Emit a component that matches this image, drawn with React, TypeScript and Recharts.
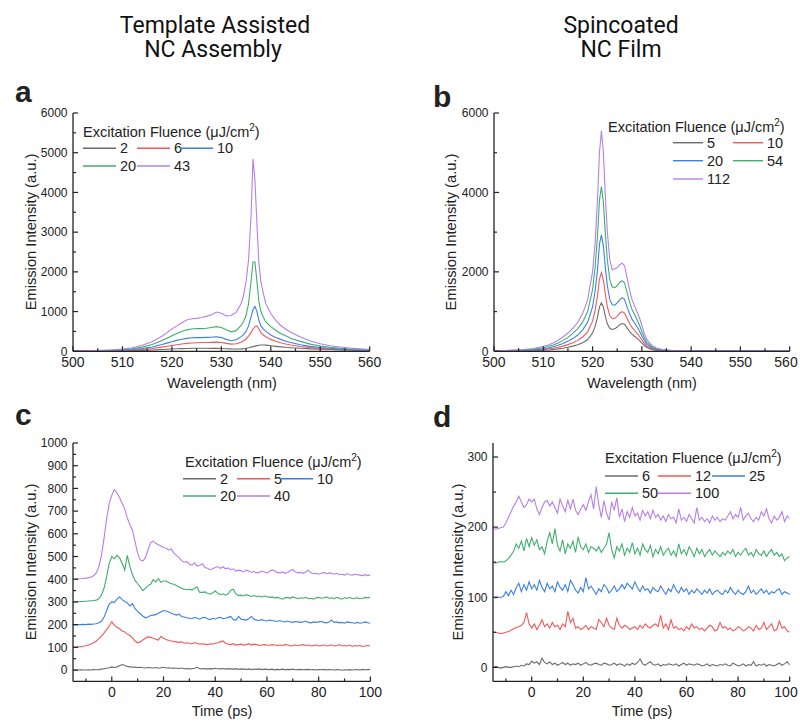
import React from "react";
import { LineChart, Line, XAxis, YAxis } from "recharts";

// line colours, lowest to highest fluence
const COLORS = ["#6b6b6b", "#f0595a", "#3c7fe3", "#3fae6e", "#b57fe8"];
const INK = "#222";
const SANS = '"Liberation Sans", Arial, sans-serif';

// ---- panel a: template assisted spectra ----
const aWavelength = [500, 502, 504, 506, 508, 510, 512, 514, 516, 518, 519, 520, 521, 522, 523, 524, 525, 526, 527, 528, 529, 530, 531, 532, 533, 534, 534.5, 535, 535.5, 536, 536.4, 536.8, 537.2, 537.6, 538, 538.5, 539, 540, 541, 542, 543, 544, 546, 548, 550, 552, 554, 556, 558, 560];
const aFluence2 = [3, 4, 5, 7, 9, 12, 17, 24, 33, 45, 52, 58, 64, 68, 72, 75, 76, 76, 75, 74, 73, 70, 65, 60, 58, 62, 68, 78, 90, 105, 118, 130, 142, 152, 158, 160, 155, 140, 125, 112, 100, 90, 75, 62, 52, 44, 37, 31, 26, 22];
const aFluence6 = [4, 5, 7, 10, 14, 20, 30, 45, 70, 105, 125, 145, 165, 185, 200, 210, 215, 220, 220, 225, 230, 220, 200, 180, 190, 230, 265, 310, 380, 470, 560, 620, 640, 560, 470, 410, 365, 300, 255, 215, 185, 160, 120, 92, 72, 56, 44, 34, 27, 22];
const aFluence10 = [5, 7, 10, 14, 20, 28, 45, 70, 110, 170, 205, 240, 275, 305, 325, 340, 345, 345, 350, 355, 365, 345, 300, 265, 290, 370, 420, 500, 640, 860, 1050, 1130, 1000, 780, 640, 560, 500, 410, 350, 300, 255, 220, 165, 125, 95, 75, 55, 42, 32, 25];
const aFluence20 = [8, 10, 14, 20, 28, 40, 65, 105, 170, 270, 330, 390, 450, 500, 540, 560, 575, 570, 580, 600, 620, 600, 540, 490, 520, 650, 750, 900, 1200, 1750, 2250, 2250, 1750, 1250, 1000, 850, 740, 620, 530, 450, 390, 330, 250, 180, 135, 100, 75, 55, 40, 30];
const aFluence43 = [10, 12, 18, 25, 35, 55, 90, 150, 240, 380, 470, 560, 640, 720, 790, 820, 830, 850, 880, 920, 990, 960, 890, 900, 980, 1200, 1400, 1750, 2300, 3400, 4850, 4300, 3200, 2200, 1750, 1450, 1200, 950, 780, 650, 560, 480, 360, 260, 190, 140, 110, 80, 60, 45];
const aLabels = ["2", "6", "10", "20", "43"];

// ---- panel b: spincoated spectra ----
const bWavelength = [500, 502, 504, 506, 508, 510, 511, 512, 513, 514, 515, 516, 517, 518, 519, 520, 520.5, 521, 521.4, 521.8, 522.2, 522.6, 523, 523.5, 524, 524.5, 525, 525.5, 526, 526.5, 527, 527.5, 528, 528.5, 529, 529.5, 530, 530.5, 531, 532, 533, 534, 535, 536, 538, 540, 545, 550, 555, 560];
const bFluence5 = [3, 4, 6, 9, 14, 25, 34, 46, 60, 78, 100, 130, 165, 215, 295, 460, 620, 860, 1120, 1220, 1110, 880, 690, 580, 550, 565, 610, 670, 700, 680, 590, 500, 430, 380, 330, 275, 210, 145, 95, 48, 24, 14, 10, 8, 6, 4, 3, 2, 2, 1];
const bFluence10 = [5, 7, 10, 15, 24, 42, 57, 77, 100, 130, 168, 215, 275, 360, 490, 760, 1020, 1400, 1820, 1980, 1800, 1430, 1120, 900, 820, 830, 880, 960, 1000, 960, 830, 700, 600, 530, 460, 380, 290, 200, 130, 65, 33, 20, 14, 11, 8, 6, 4, 3, 3, 2];
const bFluence20 = [8, 10, 15, 23, 36, 62, 85, 115, 150, 195, 250, 320, 410, 540, 730, 1120, 1500, 2050, 2700, 2930, 2650, 2100, 1650, 1300, 1170, 1160, 1220, 1300, 1350, 1300, 1120, 950, 810, 720, 620, 510, 390, 270, 175, 88, 45, 28, 20, 16, 12, 9, 6, 5, 4, 3];
const bFluence54 = [12, 15, 22, 34, 52, 90, 120, 160, 210, 275, 350, 450, 570, 740, 1000, 1550, 2100, 2900, 3800, 4150, 3750, 2950, 2300, 1800, 1620, 1600, 1650, 1740, 1780, 1720, 1480, 1250, 1050, 930, 800, 660, 500, 350, 230, 115, 60, 38, 27, 21, 15, 12, 8, 6, 5, 4];
const bFluence112 = [15, 20, 30, 45, 70, 120, 160, 210, 280, 360, 460, 580, 730, 950, 1300, 2000, 2700, 3800, 5000, 5550, 5000, 3900, 3000, 2300, 2050, 2080, 2100, 2180, 2220, 2150, 1850, 1550, 1300, 1150, 1000, 850, 650, 450, 300, 150, 80, 50, 35, 28, 20, 15, 10, 8, 6, 5];
const bLabels = ["5", "10", "20", "54", "112"];

// ---- time axis shared by c and d (ps) ----
const times = [-15, -14, -13, -12, -11, -10, -9, -8, -7, -6, -5, -4, -3, -2, -1, 0, 1, 2, 3, 4, 5, 6, 7, 8, 9, 10, 11, 12, 13, 14, 15, 16, 17, 18, 19, 20, 21, 22, 23, 24, 25, 26, 27, 28, 29, 30, 31, 32, 33, 34, 35, 36, 37, 38, 39, 40, 41, 42, 43, 44, 45, 46, 47, 48, 49, 50, 51, 52, 53, 54, 55, 56, 57, 58, 59, 60, 61, 62, 63, 64, 65, 66, 67, 68, 69, 70, 71, 72, 73, 74, 75, 76, 77, 78, 79, 80, 81, 82, 83, 84, 85, 86, 87, 88, 89, 90, 91, 92, 93, 94, 95, 96, 97, 98, 99, 100];

// ---- panel c: template assisted kinetics (offset traces) ----
const cFluence2 = [0, -1, 0, 1, 0, 0, 1, 0, 2, 1, 2, 4, 6, 8, 10, 14, 11, 14, 19, 24, 20, 16, 14, 12, 13, 11, 12, 10, 9, 11, 10, 9, 11, 8, 10, 12, 9, 10, 8, 9, 8, 7, 9, 6, 7, 5, 6, 8, 12, 6, 5, 7, 4, 6, 5, 8, 6, 5, 7, 4, 6, 5, 4, 6, 3, 5, 4, 3, 5, 2, 4, 3, 5, 2, 4, 3, 2, 4, 1, 3, 2, 4, 1, 3, 2, 4, 1, 2, 3, 1, 2, 3, 1, 2, 0, 2, 1, 3, 0, 2, 1, 0, 2, 1, -1, 1, 0, 2, 0, 1, 2, 0, 3, 1, 2, 3];
const cFluence5 = [100, 101, 102, 103, 105, 107, 110, 115, 120, 128, 138, 150, 163, 178, 195, 212, 198, 188, 182, 172, 168, 158, 152, 142, 128, 120, 124, 132, 140, 146, 144, 140, 136, 132, 148, 140, 134, 130, 128, 126, 124, 122, 124, 118, 120, 118, 116, 120, 118, 114, 116, 114, 112, 116, 114, 118, 120, 124, 128, 118, 114, 112, 116, 110, 112, 114, 110, 112, 116, 110, 114, 112, 108, 110, 112, 110, 108, 112, 110, 108, 110, 108, 112, 110, 106, 108, 110, 108, 110, 112, 108, 110, 106, 108, 110, 106, 108, 110, 106, 108, 110, 106, 108, 112, 106, 108, 106, 110, 104, 108, 106, 108, 104, 106, 108, 106];
const cFluence10 = [200, 199, 200, 200, 201, 200, 202, 201, 203, 204, 208, 215, 232, 262, 290, 300, 298, 312, 322, 310, 302, 296, 282, 292, 270, 258, 248, 238, 230, 234, 240, 242, 244, 250, 256, 262, 260, 256, 250, 246, 242, 246, 236, 234, 230, 228, 226, 232, 228, 224, 230, 232, 226, 222, 228, 224, 230, 232, 226, 228, 232, 236, 222, 220, 236, 224, 222, 220, 226, 236, 224, 220, 218, 222, 218, 216, 220, 218, 216, 214, 218, 214, 212, 216, 212, 210, 214, 212, 210, 212, 216, 210, 208, 212, 210, 212, 214, 210, 208, 212, 220, 210, 212, 208, 210, 206, 212, 210, 208, 206, 210, 206, 208, 212, 208, 206];
const cFluence20 = [300, 300, 301, 302, 302, 303, 304, 305, 306, 308, 315, 330, 360, 410, 470, 500, 490, 505, 495, 470, 440, 505, 455, 420, 395, 380, 365, 350, 360, 372, 378, 398, 388, 402, 386, 392, 392, 386, 380, 378, 372, 366, 360, 356, 354, 356, 352, 360, 366, 342, 342, 344, 338, 334, 340, 348, 338, 332, 336, 330, 336, 352, 356, 334, 328, 330, 326, 332, 328, 324, 328, 324, 326, 322, 326, 324, 320, 322, 318, 320, 316, 312, 318, 320, 316, 322, 318, 314, 318, 316, 320, 314, 316, 312, 318, 320, 316, 318, 322, 316, 318, 314, 320, 316, 312, 318, 316, 320, 314, 316, 318, 314, 316, 320, 318, 320];
const cFluence40 = [400, 401, 402, 402, 403, 405, 407, 410, 415, 428, 455, 505, 580, 665, 735, 770, 795, 780, 760, 735, 710, 670, 640, 615, 565, 515, 485, 480, 495, 530, 560, 568, 558, 552, 546, 540, 536, 528, 534, 515, 505, 495, 482, 475, 478, 466, 462, 472, 458, 462, 468, 452, 448, 442, 446, 452, 456, 448, 454, 446, 450, 442, 446, 436, 440, 438, 432, 440, 436, 430, 434, 428, 430, 436, 432, 428, 434, 442, 436, 430, 428, 432, 426, 430, 438, 442, 432, 428, 430, 426, 432, 440, 428, 424, 426, 422, 426, 430, 424, 428, 426, 422, 426, 420, 422, 418, 424, 420, 418, 422, 420, 418, 416, 420, 416, 418];
const cLabels = ["2", "5", "10", "20", "40"];

// ---- panel d: spincoated kinetics (offset traces) ----
const dFluence6 = [0, 1, 0, -1, 0, 1, 0, 0, 1, 2, 1, 3, 2, 5, 4, 9, 6, 8, 4, 13, 7, 5, 8, 4, 6, 3, 5, 7, 4, 6, 3, 5, 4, 6, 3, 5, 7, 4, 3, 5, 6, 4, 3, 6, 5, 3, 4, 6, 3, 5, 4, 2, 5, 3, 6, 4, 7, 12, 5, 3, 6, 8, 4, 3, 5, 2, 4, 3, 5, 4, 3, 5, 2, 4, 6, 3, 5, 4, 3, 5, 4, 2, 3, 5, 2, 4, 3, 2, 4, 3, 5, 3, 2, 6, 4, 2, 3, 5, 2, 4, 3, 8, 2, 4, 3, 5, 2, 4, 3, 2, 4, 6, 3, 5, 8, 3];
const dFluence12 = [50, 50, 49, 48, 49, 50, 51, 53, 55, 57, 58, 60, 64, 78, 62, 56, 62, 54, 60, 68, 58, 62, 56, 64, 58, 60, 54, 62, 58, 80, 64, 70, 56, 58, 54, 56, 60, 54, 58, 56, 54, 68, 64, 58, 70, 60, 56, 54, 70, 60, 56, 60, 58, 54, 56, 58, 54, 60, 56, 62, 58, 56, 60, 62, 58, 74, 56, 62, 54, 68, 56, 58, 54, 56, 52, 58, 54, 62, 56, 58, 54, 56, 52, 56, 60, 58, 52, 54, 64, 56, 58, 54, 56, 52, 54, 58, 56, 52, 54, 58, 56, 52, 60, 54, 56, 64, 54, 58, 62, 52, 54, 66, 56, 58, 52, 50];
const dFluence25 = [100, 99, 100, 100, 101, 108, 102, 110, 104, 114, 120, 108, 118, 110, 122, 112, 118, 110, 124, 114, 108, 120, 112, 116, 108, 122, 114, 110, 118, 108, 124, 118, 110, 106, 114, 108, 128, 112, 116, 110, 104, 112, 108, 118, 114, 106, 110, 116, 108, 112, 118, 112, 120, 116, 112, 122, 114, 108, 116, 110, 112, 106, 114, 110, 108, 116, 110, 104, 112, 108, 118, 110, 106, 114, 108, 112, 104, 110, 106, 112, 108, 104, 110, 106, 112, 104, 108, 110, 106, 104, 110, 106, 114, 108, 104, 110, 106, 104, 108, 116, 106, 110, 104, 108, 112, 106, 110, 104, 108, 106, 110, 112, 104, 108, 106, 104];
const dFluence50 = [150, 149, 150, 151, 150, 152, 155, 160, 166, 176, 170, 180, 166, 184, 172, 185, 174, 182, 168, 172, 162, 180, 192, 176, 198, 174, 166, 182, 162, 176, 170, 180, 164, 186, 172, 168, 176, 164, 172, 170, 166, 172, 164, 170, 176, 192, 168, 156, 172, 166, 176, 160, 170, 164, 178, 162, 170, 160, 176, 168, 164, 174, 158, 168, 162, 172, 160, 166, 170, 160, 166, 158, 176, 162, 168, 160, 172, 166, 158, 170, 162, 168, 158, 164, 168, 160, 166, 162, 158, 164, 160, 166, 162, 168, 158, 164, 160, 166, 170, 160, 164, 158, 168, 162, 160, 166, 158, 164, 168, 160, 164, 158, 162, 152, 156, 158];
const dFluence100 = [198, 197, 198, 199, 200, 206, 214, 222, 230, 236, 244, 236, 228, 232, 240, 236, 240, 226, 218, 228, 236, 238, 230, 236, 228, 220, 240, 230, 222, 238, 226, 240, 224, 218, 226, 232, 224, 236, 246, 226, 258, 232, 214, 238, 220, 210, 236, 224, 242, 214, 226, 208, 222, 214, 228, 216, 220, 210, 224, 216, 222, 212, 224, 214, 218, 210, 216, 208, 218, 212, 214, 206, 226, 210, 214, 208, 218, 212, 206, 228, 210, 214, 208, 212, 206, 216, 210, 214, 208, 212, 210, 216, 222, 212, 218, 214, 228, 210, 216, 220, 212, 208, 214, 210, 222, 216, 226, 212, 206, 216, 210, 214, 222, 208, 216, 212];
const dLabels = ["6", "12", "25", "50", "100"];

// ---- axis ticks ----
const specXMajor = [500, 510, 520, 530, 540, 550, 560];
const specXMinor = [505, 515, 525, 535, 545, 555];
const aYMajor = [0, 1000, 2000, 3000, 4000, 5000, 6000];
const aYMinor = [500, 1500, 2500, 3500, 4500, 5500];
const bYMajor = [0, 2000, 4000, 6000];
const bYMinor = [1000, 3000, 5000];
const timeXMajor = [0, 20, 40, 60, 80, 100];
const timeXMinor = [-10, 10, 30, 50, 70, 90];
const cYMajor = [0, 100, 200, 300, 400, 500, 600, 700, 800, 900, 1000];
const cYMinor = [50, 150, 250, 350, 450, 550, 650, 750, 850, 950];
const dYMajor = [0, 100, 200, 300];
const dYMinor = [50, 150, 250];

const makeRows = (xs: number[], series: number[][]) =>
  xs.map((x, i) => {
    const row: any = { x };
    series.forEach((s, j) => (row["s" + j] = s[i]));
    return row;
  });

// inward ticks (Origin style); edgeLabel pulls the last x label inside the page
const tickRenderer = (side: string, majors: number[], showLabel: boolean, edgeLabel = false) => (props: any) => {
  const { x, y, payload } = props;
  const v = payload.value;
  const major = majors.includes(v);
  const len = major ? 5 : 3;
  let x2 = x;
  let y2 = y;
  if (side === "bottom") y2 = y - len;
  if (side === "top") y2 = y + len;
  if (side === "left") x2 = x + len;
  if (side === "right") x2 = x - len;
  const atEdge = edgeLabel && v === majors[majors.length - 1];
  return (
    <g>
      <line x1={x} y1={y} x2={x2} y2={y2} stroke={INK} strokeWidth={1.2} />
      {showLabel && major && side === "bottom" && (
        <text x={atEdge ? x + 8 : x} y={y + 16} textAnchor={atEdge ? "end" : "middle"} fontSize={14} fontFamily={SANS} fill={INK}>{v}</text>
      )}
      {showLabel && major && side === "left" && (
        <text x={x - 5.5} y={y + 4.3} textAnchor="end" fontSize={12} fontFamily={SANS} fill={INK}>{v}</text>
      )}
    </g>
  );
};

type Box = { l: number; t: number; r: number; b: number };

function Panel(props: {
  box: Box; rows: any[]; n: number; edge?: boolean;
  xDomain: [number, number]; xMajor: number[]; xMinor: number[];
  yDomain: [number, number]; yMajor: number[]; yMinor: number[];
}) {
  const { box, rows, n } = props;
  const padL = 80, padT = 10, padR = 14, padB = 50;
  const w = box.r - box.l + padL + padR;
  const h = box.b - box.t + padT + padB;
  const xTicks = [...props.xMajor, ...props.xMinor].sort((a, b) => a - b);
  const yTicks = [...props.yMajor, ...props.yMinor].sort((a, b) => a - b);
  const axisLine = { stroke: INK, strokeWidth: 1.3 };
  return (
    <div style={{ position: "absolute", left: box.l - padL, top: box.t - padT }}>
      <LineChart width={w} height={h} data={rows} margin={{ top: padT, right: padR, bottom: 0, left: 0 }}>
        <XAxis xAxisId="b" type="number" dataKey="x" domain={props.xDomain} ticks={xTicks} interval={0}
          height={padB} tickSize={0} tickMargin={0} tickLine={false} axisLine={axisLine} allowDataOverflow
          tick={tickRenderer("bottom", props.xMajor, true, props.edge)} />
        <XAxis xAxisId="t" orientation="top" type="number" dataKey="x" domain={props.xDomain} ticks={xTicks} interval={0}
          height={0} tickSize={0} tickMargin={0} tickLine={false} axisLine={axisLine} allowDataOverflow
          tick={tickRenderer("top", props.xMajor, false)} />
        <YAxis yAxisId="l" type="number" domain={props.yDomain} ticks={yTicks} interval={0}
          width={padL} tickSize={0} tickMargin={0} tickLine={false} axisLine={axisLine} allowDataOverflow
          tick={tickRenderer("left", props.yMajor, true)} />
        <YAxis yAxisId="r" orientation="right" type="number" domain={props.yDomain} ticks={yTicks} interval={0}
          width={0} tickSize={0} tickMargin={0} tickLine={false} axisLine={axisLine} allowDataOverflow
          tick={tickRenderer("right", props.yMajor, false)} />
        {Array.from({ length: n }, (_, i) => (
          <Line key={i} xAxisId="b" yAxisId="l" type="linear" dataKey={"s" + i} stroke={COLORS[i]}
            strokeWidth={1.1} dot={false} isAnimationActive={false} />
        ))}
      </LineChart>
    </div>
  );
}

function FluenceLegend(props: { tx: number; ty: number; cols: number[]; rowsY: number[]; labels: string[]; lineLen?: number }) {
  const { tx, ty, cols, rowsY, labels } = props;
  const lineLen = props.lineLen ?? 33;
  const perRow = cols.length;
  return (
    <g fontFamily={SANS} fontSize={14.5} fill={INK}>
      <text x={tx} y={ty}>
        Excitation Fluence (μJ/cm<tspan dy={-6} fontSize={10}>2</tspan><tspan dy={6}>)</tspan>
      </text>
      {labels.map((lab, i) => {
        const x = cols[i % perRow];
        const y = rowsY[Math.floor(i / perRow)];
        return (
          <g key={lab}>
            <line x1={x} y1={y} x2={x + lineLen} y2={y} stroke={COLORS[i]} strokeWidth={1.4} />
            <text x={x + lineLen + 4} y={y + 5}>{lab}</text>
          </g>
        );
      })}
    </g>
  );
}

export default function App() {
  const boxA = { l: 73.3, t: 112.7, r: 370, b: 351 };
  const boxB = { l: 494.3, t: 112.7, r: 790, b: 351 };
  const boxC = { l: 73.3, t: 443.3, r: 370.7, b: 681.7 };
  const boxD = { l: 493.3, t: 443.3, r: 790, b: 681.7 };
  const yTitle = (x: number, y: number) => (
    <text x={x} y={y} transform={`rotate(-90 ${x} ${y})`} textAnchor="middle" fontSize={14.7} fontFamily={SANS} fill={INK}>
      Emission Intensity (a.u.)
    </text>
  );
  const xTitle = (x: number, y: number, s: string) => (
    <text x={x} y={y} textAnchor="middle" fontSize={14.5} fontFamily={SANS} fill={INK}>{s}</text>
  );
  const letter = (x: number, y: number, s: string) => (
    <text x={x} y={y} fontSize={30} fontWeight="bold" fontFamily={SANS} fill="#222">{s}</text>
  );
  return (
    <div style={{ position: "absolute", left: 0, top: 0, width: 800, height: 723, overflow: "hidden", background: "#fff" }}>
      <Panel box={boxA} n={5} rows={makeRows(aWavelength, [aFluence2, aFluence6, aFluence10, aFluence20, aFluence43])}
        xDomain={[500, 560]} xMajor={specXMajor} xMinor={specXMinor} yDomain={[0, 6000]} yMajor={aYMajor} yMinor={aYMinor} />
      <Panel box={boxB} n={5} edge rows={makeRows(bWavelength, [bFluence5, bFluence10, bFluence20, bFluence54, bFluence112])}
        xDomain={[500, 560]} xMajor={specXMajor} xMinor={specXMinor} yDomain={[0, 6000]} yMajor={bYMajor} yMinor={bYMinor} />
      <Panel box={boxC} n={5} rows={makeRows(times, [cFluence2, cFluence5, cFluence10, cFluence20, cFluence40])}
        xDomain={[-15, 100]} xMajor={timeXMajor} xMinor={timeXMinor} yDomain={[-50, 1000]} yMajor={cYMajor} yMinor={cYMinor} />
      <Panel box={boxD} n={5} edge rows={makeRows(times, [dFluence6, dFluence12, dFluence25, dFluence50, dFluence100])}
        xDomain={[-15, 100]} xMajor={timeXMajor} xMinor={timeXMinor} yDomain={[-20, 320]} yMajor={dYMajor} yMinor={dYMinor} />
      <svg width={800} height={723} style={{ position: "absolute", left: 0, top: 0, pointerEvents: "none" }}>
        <g fontFamily="Roboto, sans-serif" fontSize={23} fill="#111" textAnchor="middle">
          <text x={215} y={33}>Template Assisted</text>
          <text x={213} y={57}>NC Assembly</text>
          <text x={621} y={33}>Spincoated</text>
          <text x={621} y={57}>NC Film</text>
        </g>
        {letter(15, 102, "a")}
        {letter(433, 107, "b")}
        {letter(15, 425, "c")}
        {letter(433, 427, "d")}
        {yTitle(36, 232)}
        {yTitle(455.5, 232)}
        {yTitle(36, 562)}
        {yTitle(462.5, 562)}
        {xTitle(222, 388, "Wavelength (nm)")}
        {xTitle(642, 388, "Wavelength (nm)")}
        {xTitle(222, 716, "Time (ps)")}
        {xTitle(642, 716, "Time (ps)")}
        <FluenceLegend tx={83} ty={136.5} cols={[83, 137, 180]} rowsY={[148.3, 166]} labels={aLabels} />
        <FluenceLegend tx={608} ty={131.7} cols={[673, 733]} rowsY={[142.7, 160.7, 179]} labels={bLabels} lineLen={30} />
        <FluenceLegend tx={185} ty={466.7} cols={[183, 237, 280]} rowsY={[478.7, 496]} labels={cLabels} />
        <FluenceLegend tx={605} ty={462.7} cols={[605, 658, 712]} rowsY={[476, 493.3]} labels={dLabels} />
      </svg>
    </div>
  );
}
